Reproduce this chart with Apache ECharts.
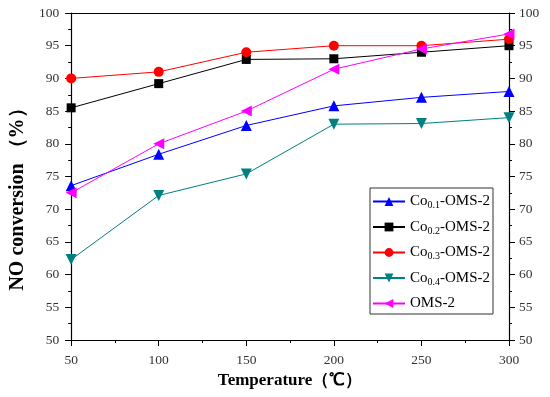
<!DOCTYPE html>
<html><head><meta charset="utf-8">
<script src="https://cdn.jsdelivr.net/npm/echarts@6/dist/echarts.min.js"></script>
<style>html,body{margin:0;padding:0;background:#fff}#c{width:550px;height:397px}</style>
</head><body><div id="c"></div>
<script>
var temps = [50, 100, 150, 200, 250, 300];
var co01 = [73.6, 78.4, 82.8, 85.8, 87.1, 88.0];
var co02 = [85.5, 89.2, 92.9, 93.0, 94.0, 95.0];
var co03 = [90.0, 91.0, 94.0, 95.0, 95.0, 96.0];
var co04 = [62.3, 72.1, 75.4, 83.0, 83.1, 84.0];
var oms2 = [72.5, 80.0, 85.0, 91.4, 94.5, 96.8];
var seriesNames = ['Co0.1-OMS-2', 'Co0.2-OMS-2', 'Co0.3-OMS-2', 'Co0.4-OMS-2', 'OMS-2'];
var legendLabels = {
  'Co0.1-OMS-2': '{n|Co}{s|0.1}{n|-OMS-2}',
  'Co0.2-OMS-2': '{n|Co}{s|0.2}{n|-OMS-2}',
  'Co0.3-OMS-2': '{n|Co}{s|0.3}{n|-OMS-2}',
  'Co0.4-OMS-2': '{n|Co}{s|0.4}{n|-OMS-2}',
  'OMS-2': '{n|OMS-2}'
};
var xTitle = 'Temperature（℃）';
var yTitle = 'NO conversion （%）';

function pairs(v){ return temps.map(function(t,i){ return [t, v[i]]; }); }
var serif = 'Liberation Serif, Times New Roman, serif';
var tickLabel = {color:'#333', fontFamily: serif, fontSize: 13.5};
function yAx(pos, margin){
  return {type:'value', position:pos, min:50, max:100, interval:5,
    axisLine:{show:true, lineStyle:{color:'#000', width:1.2}},
    axisTick:{show:true, inside:false, length:6, lineStyle:{color:'#000'}},
    minorTick:{show:true, splitNumber:2, length:3, lineStyle:{color:'#000'}},
    splitLine:{show:false},
    axisLabel: Object.assign({margin:margin}, tickLabel)};
}
var y0 = yAx('left', 12);
y0.name = yTitle; y0.nameLocation='middle'; y0.nameGap = 36;
y0.nameTextStyle = {fontFamily:serif, fontWeight:'bold', fontSize:20, color:'#000', padding:[0,36,0,0]};
var y1 = yAx('right', 10);

function mk(name, data, color, symbol, size, rot){
  return {name:name, type:'line', data:pairs(data), symbol:symbol, symbolSize:size, symbolRotate:rot||0,
    lineStyle:{color:color, width:1}, itemStyle:{color:color}, color:color, animation:false};
}
var chart = echarts.init(document.getElementById('c'));
chart.setOption({
  animation:false,
  backgroundColor:'#fff',
  grid:{left:67, right:41, top:13, bottom:57},
  xAxis:[{type:'value', min:50, max:300, interval:50, position:'bottom',
    name:xTitle, nameLocation:'middle', nameGap:32,
    nameTextStyle:{fontFamily:serif, fontWeight:'bold', fontSize:17, color:'#000'},
    axisLine:{show:true, lineStyle:{color:'#000', width:1.2}},
    axisTick:{show:true, inside:false, length:6, lineStyle:{color:'#000'}},
    minorTick:{show:true, splitNumber:2, length:3, lineStyle:{color:'#000'}},
    splitLine:{show:false},
    axisLabel:Object.assign({margin:13}, tickLabel)},
   {type:'value', min:50, max:300, position:'top',
    axisLine:{show:true, onZero:false, lineStyle:{color:'#000', width:1.2}},
    axisTick:{show:false}, axisLabel:{show:false}, splitLine:{show:false}}],
  yAxis:[y0, y1],
  legend:{orient:'vertical', left:370, top:188,
    padding:[6,3,3,2], itemGap:9, itemWidth:32, itemHeight:11,
    borderColor:'#333', borderWidth:1,
    data:seriesNames,
    formatter:function(n){ return legendLabels[n]; },
    textStyle:{color:'#000', fontFamily:serif, fontSize:15,
      rich:{n:{fontFamily:serif, fontSize:15, color:'#000'},
            s:{fontFamily:serif, fontSize:10, color:'#000', padding:[8,0,0,0]}}}},
  series:[
    mk(seriesNames[0], co01, '#0000ff', 'triangle', 11),
    mk(seriesNames[1], co02, '#000000', 'rect', 9),
    mk(seriesNames[2], co03, '#ff0000', 'circle', 10),
    mk(seriesNames[3], co04, '#008080', 'triangle', 11, 180),
    mk(seriesNames[4], oms2, '#ff00ff', 'triangle', 11, 90)
  ]
});
</script></body></html>
